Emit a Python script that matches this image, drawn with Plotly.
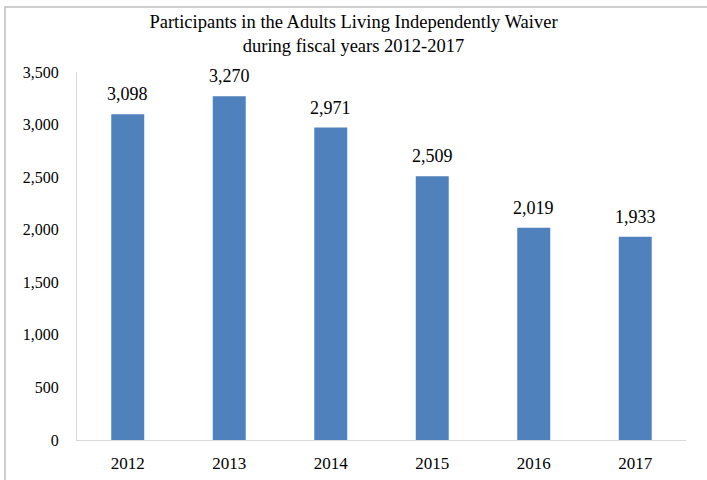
import plotly.graph_objects as go

years = ["2012", "2013", "2014", "2015", "2016", "2017"]
participants = [3098, 3270, 2971, 2509, 2019, 1933]
y_ticks = [0, 500, 1000, 1500, 2000, 2500, 3000, 3500]

FONT = "Liberation Serif, Times New Roman, serif"

fig = go.Figure(go.Bar(
    x=years, y=participants,
    marker=dict(color="#4F81BD", line=dict(width=0)),
    cliponaxis=False,
))

# category axis: annotation x is the category's serial index
for i, v in enumerate(participants):
    fig.add_annotation(
        x=i, y=v, xref="x", yref="y",
        text=f"{v:,}", showarrow=False,
        yanchor="bottom", yshift=8,
        font=dict(family=FONT, size=18, color="#000000"),
    )

fig.update_layout(
    width=707, height=480,
    margin=dict(l=77, r=21, t=72, b=40, autoexpand=False),
    paper_bgcolor="white", plot_bgcolor="white",
    bargap=0.675,
    showlegend=False,
    title=dict(
        text="Participants in the Adults Living Independently Waiver<br>during fiscal years 2012-2017",
        x=0.5, xref="container", xanchor="center",
        y=1 - 28/480, yref="container", yanchor="middle",
        font=dict(family=FONT, size=18.5, color="#000000"),
    ),
    font=dict(family=FONT, size=17, color="#000000"),
    xaxis=dict(
        type="category", categoryorder="array", categoryarray=years,
        showline=True, linecolor="#D9D9D9", linewidth=1,
        showgrid=False, ticks="", ticklabelstandoff=8, automargin=False,
        tickfont=dict(family=FONT, size=17, color="#000000"),
    ),
    yaxis=dict(
        range=[0, 3500], tickvals=y_ticks,
        ticktext=[f"{v:,}" for v in y_ticks],
        showline=True, linecolor="#D9D9D9", linewidth=1, automargin=False,
        showgrid=False, zeroline=False, ticks="", ticklabelstandoff=14,
        tickfont=dict(family=FONT, size=16, color="#000000"),
    ),
)

fig.add_shape(
    type="rect", xref="paper", yref="paper",
    x0=(5 - 77) / 609, x1=(715 - 77) / 609,
    y0=(440 - 490) / 368, y1=(440 - 7) / 368,
    line=dict(color="#BFBFBF", width=1.5), fillcolor="rgba(0,0,0,0)",
    layer="below",
)

fig.write_html("out.html", config={"displayModeBar": False},
               post_script="document.body.style.margin='0';")
